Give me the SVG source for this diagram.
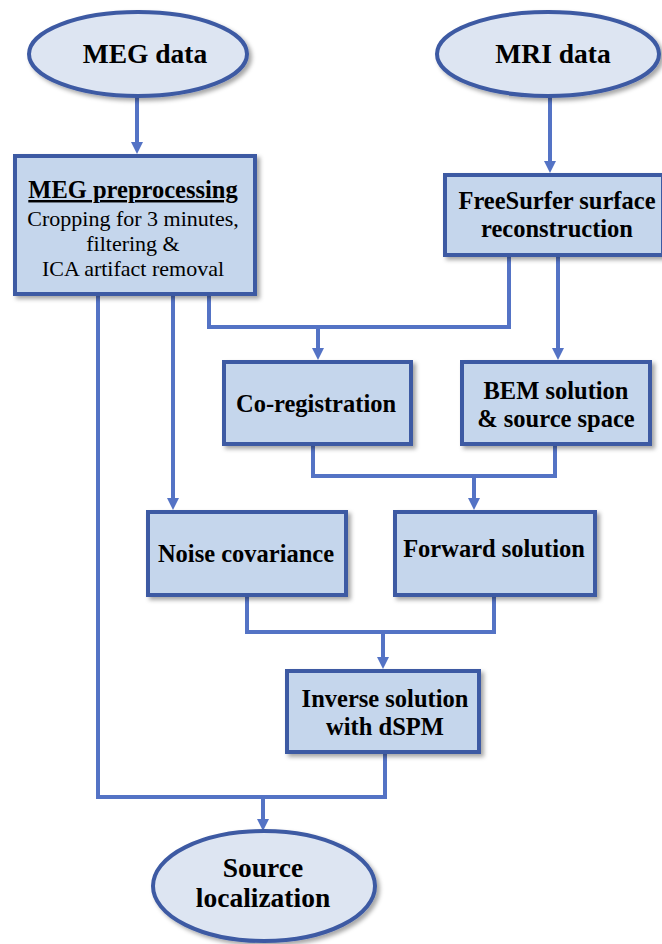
<svg xmlns="http://www.w3.org/2000/svg" width="662" height="944" viewBox="0 0 662 944">
<style>
.box{fill:#c5d6ec;stroke:#3e5aa3;stroke-width:4;filter:url(#sh)}
.ell{fill:#dde5f2;stroke:#3e5aa3;stroke-width:4;filter:url(#sh)}
.con{fill:none;stroke:#5473c5;stroke-width:4}
.t{font-family:"Liberation Serif","Times New Roman",serif;font-weight:bold;fill:#000;text-anchor:middle;font-size:24.5px}
.e{font-size:27.5px}
.r{font-family:"Liberation Serif","Times New Roman",serif;fill:#000;text-anchor:middle;font-size:22px}
</style>
<defs>
<filter id="sh" x="-10%" y="-10%" width="130%" height="130%">
<feDropShadow dx="3" dy="3" stdDeviation="2" flood-color="#000" flood-opacity="0.35"/>
</filter>
<marker id="ah" viewBox="0 0 12 12" refX="4" refY="6" markerWidth="12" markerHeight="12" markerUnits="userSpaceOnUse" orient="auto">
<path d="M0,0 L12,6 L0,12 z" fill="#5473c5"/>
</marker>
</defs>
<rect width="662" height="944" fill="#fff"/>
<g id="connectors">
<path class="con" d="M137,96 V146" marker-end="url(#ah)"/>
<path class="con" d="M550,96 V165" marker-end="url(#ah)"/>
<path class="con" d="M509,257 V327 H209 V296"/>
<path class="con" d="M318,327 V352" marker-end="url(#ah)"/>
<path class="con" d="M558,257 V352" marker-end="url(#ah)"/>
<path class="con" d="M173,296 V502" marker-end="url(#ah)"/>
<path class="con" d="M313,446 V476 H555 V446"/>
<path class="con" d="M474,476 V502" marker-end="url(#ah)"/>
<path class="con" d="M247,597 V632 H494 V597"/>
<path class="con" d="M383,632 V661" marker-end="url(#ah)"/>
<path class="con" d="M98,296 V797 H385 V754"/>
<path class="con" d="M263,797 V823" marker-end="url(#ah)"/>
</g>
<g id="meg-data">
<ellipse class="ell" cx="138" cy="54" rx="109" ry="42"/>
<text class="t e" x="145" y="63">MEG data</text>
</g>
<g id="mri-data">
<ellipse class="ell" cx="548" cy="54" rx="111" ry="42"/>
<text class="t e" x="553" y="63">MRI data</text>
</g>
<g id="meg-preprocessing">
<rect class="box" x="15" y="156" width="240" height="138"/>
<text class="t" x="133" y="198" text-decoration="underline">MEG preprocessing</text>
<text class="r" x="133" y="226">Cropping for 3 minutes,</text>
<text class="r" x="133" y="251">filtering &amp;</text>
<text class="r" x="133" y="276">ICA artifact removal</text>
</g>
<g id="freesurfer">
<rect class="box" x="445" y="175" width="218" height="80"/>
<text class="t" x="557" y="209">FreeSurfer surface</text>
<text class="t" x="557" y="237">reconstruction</text>
</g>
<g id="co-registration">
<rect class="box" x="224" y="362" width="187" height="82"/>
<text class="t" x="316" y="412">Co-registration</text>
</g>
<g id="bem">
<rect class="box" x="462" y="362" width="188" height="82"/>
<text class="t" x="556" y="399">BEM solution</text>
<text class="t" x="556" y="427">&amp; source space</text>
</g>
<g id="noise-covariance">
<rect class="box" x="148" y="512" width="198" height="83"/>
<text class="t" x="246" y="562">Noise covariance</text>
</g>
<g id="forward-solution">
<rect class="box" x="395" y="512" width="200" height="83"/>
<text class="t" x="494" y="557">Forward solution</text>
</g>
<g id="inverse-solution">
<rect class="box" x="287" y="671" width="192" height="81"/>
<text class="t" x="385" y="707">Inverse solution</text>
<text class="t" x="385" y="735">with dSPM</text>
</g>
<g id="source-localization">
<ellipse class="ell" cx="264" cy="886" rx="111" ry="55"/>
<text class="t e" x="263" y="877">Source</text>
<text class="t e" x="263" y="907">localization</text>
</g>
</svg>
